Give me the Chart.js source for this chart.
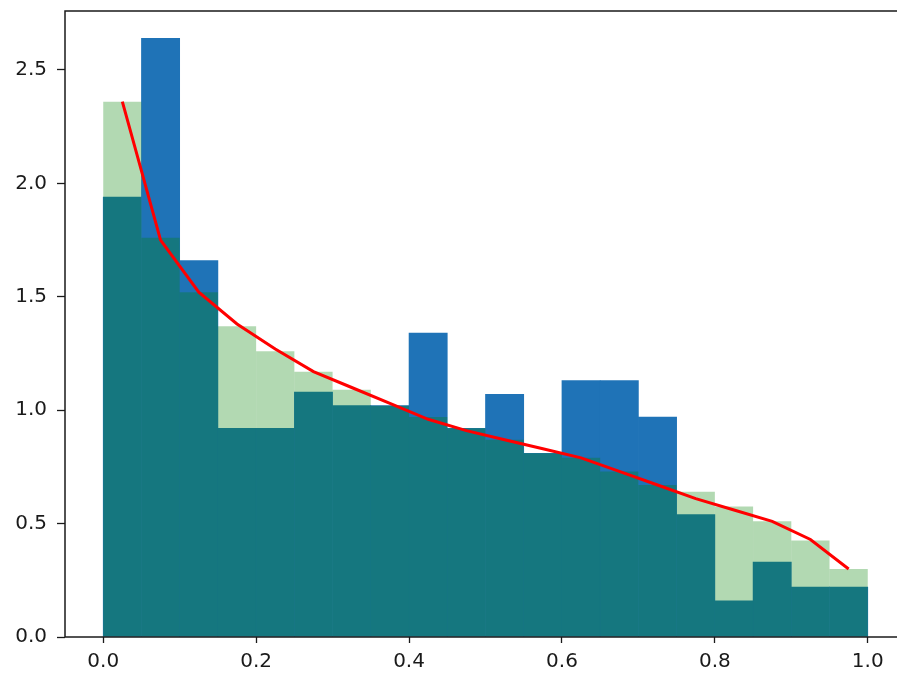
<!DOCTYPE html>
<html>
<head>
<meta charset="utf-8">
<title>Histogram density comparison</title>
<script src="https://cdn.jsdelivr.net/npm/chart.js@4/dist/chart.umd.min.js"></script>
<style>
  html, body { margin: 0; padding: 0; background: #ffffff; overflow: hidden; }
  #wrap { width: 920px; height: 677px; }
  canvas { display: block; }
</style>
</head>
<body>
<div id="wrap"><canvas id="chart" width="920" height="677"></canvas></div>
<script>
// Bin centres of the 20 equal-width bins on [0, 1]
const binCenters = [0.025, 0.075, 0.125, 0.175, 0.225, 0.275, 0.325, 0.375, 0.425, 0.475,
                    0.525, 0.575, 0.625, 0.675, 0.725, 0.775, 0.825, 0.875, 0.925, 0.975];

// Sample histogram (density)
const sampleDensity = [1.94, 2.64, 1.66, 0.92, 0.92, 1.08, 1.02, 1.02, 1.34, 0.92,
                       1.07, 0.81, 1.13, 1.13, 0.97, 0.54, 0.16, 0.33, 0.22, 0.22];

// Reference histogram (density), drawn translucent on top
const referenceDensity = [2.36, 1.76, 1.52, 1.37, 1.26, 1.17, 1.09, 1.02, 0.97, 0.92,
                          0.87, 0.81, 0.79, 0.73, 0.67, 0.64, 0.575, 0.51, 0.425, 0.30];

// Density curve evaluated at the bin centres
const curveDensity = [2.36, 1.75, 1.52, 1.38, 1.27, 1.17, 1.10, 1.03, 0.96, 0.91,
                      0.87, 0.83, 0.79, 0.73, 0.67, 0.61, 0.56, 0.51, 0.43, 0.30];

// Axis ticks
const xTicks = [0.0, 0.2, 0.4, 0.6, 0.8, 1.0];
const yTicks = [0.0, 0.5, 1.0, 1.5, 2.0, 2.5];

const toPoints = (xs, ys) => xs.map((x, i) => ({ x: x, y: ys[i] }));

const tickFont = { family: "'DejaVu Sans', sans-serif", size: 20 };
const inkColor = '#1a1a1a';

// Frame around the plotting area (spines)
const framePlugin = {
  id: 'frame',
  afterDraw(chart) {
    const { ctx, chartArea: a } = chart;
    ctx.save();
    ctx.strokeStyle = inkColor;
    ctx.lineWidth = 1.5;
    ctx.strokeRect(a.left, a.top, a.right - a.left, a.bottom - a.top);
    ctx.restore();
  }
};

new Chart(document.getElementById('chart'), {
  type: 'bar',
  data: {
    datasets: [
      {
        type: 'line',
        data: toPoints(binCenters, curveDensity),
        borderColor: '#ff0000',
        borderWidth: 3,
        pointRadius: 0,
        tension: 0,
        fill: false,
        order: 0
      },
      {
        data: toPoints(binCenters, referenceDensity),
        backgroundColor: 'rgba(0, 128, 0, 0.3)',
        borderWidth: 0,
        inflateAmount: 0,
        grouped: false,
        barPercentage: 1.0,
        categoryPercentage: 1.0,
        order: 1
      },
      {
        data: toPoints(binCenters, sampleDensity),
        backgroundColor: 'rgb(31, 115, 183)',
        borderWidth: 0,
        grouped: false,
        barPercentage: 1.0,
        categoryPercentage: 1.0,
        order: 2
      }
    ]
  },
  options: {
    responsive: false,
    animation: false,
    devicePixelRatio: 1,
    layout: { padding: { top: 11, right: 14, bottom: 0, left: 0 } },
    plugins: {
      legend: { display: false },
      tooltip: { enabled: false }
    },
    scales: {
      x: {
        type: 'linear',
        min: -0.05,
        max: 1.05,
        offset: false,
        afterBuildTicks: (scale) => { scale.ticks = xTicks.map(v => ({ value: v })); },
        afterFit: (scale) => {
          scale.height = 40;
          scale.paddingLeft = 0;
          scale.paddingRight = 0;
        },
        grid: { offset: false, drawOnChartArea: false, tickLength: 6, tickColor: inkColor, tickWidth: 1.3 },
        border: { display: false },
        ticks: {
          font: tickFont,
          color: inkColor,
          padding: 7,
          maxRotation: 0,
          callback: (v) => Number(v).toFixed(1)
        }
      },
      y: {
        type: 'linear',
        min: 0,
        max: 2.76,
        afterBuildTicks: (scale) => { scale.ticks = yTicks.map(v => ({ value: v })); },
        afterFit: (scale) => {
          scale.width = 65;
          scale.paddingTop = 0;
          scale.paddingBottom = 0;
        },
        grid: { offset: false, drawOnChartArea: false, tickLength: 8, tickColor: inkColor, tickWidth: 1.3 },
        border: { display: false },
        ticks: {
          font: tickFont,
          color: inkColor,
          padding: 10,
          callback: (v) => Number(v).toFixed(1)
        }
      }
    }
  },
  plugins: [framePlugin]
});
</script>
</body>
</html>
